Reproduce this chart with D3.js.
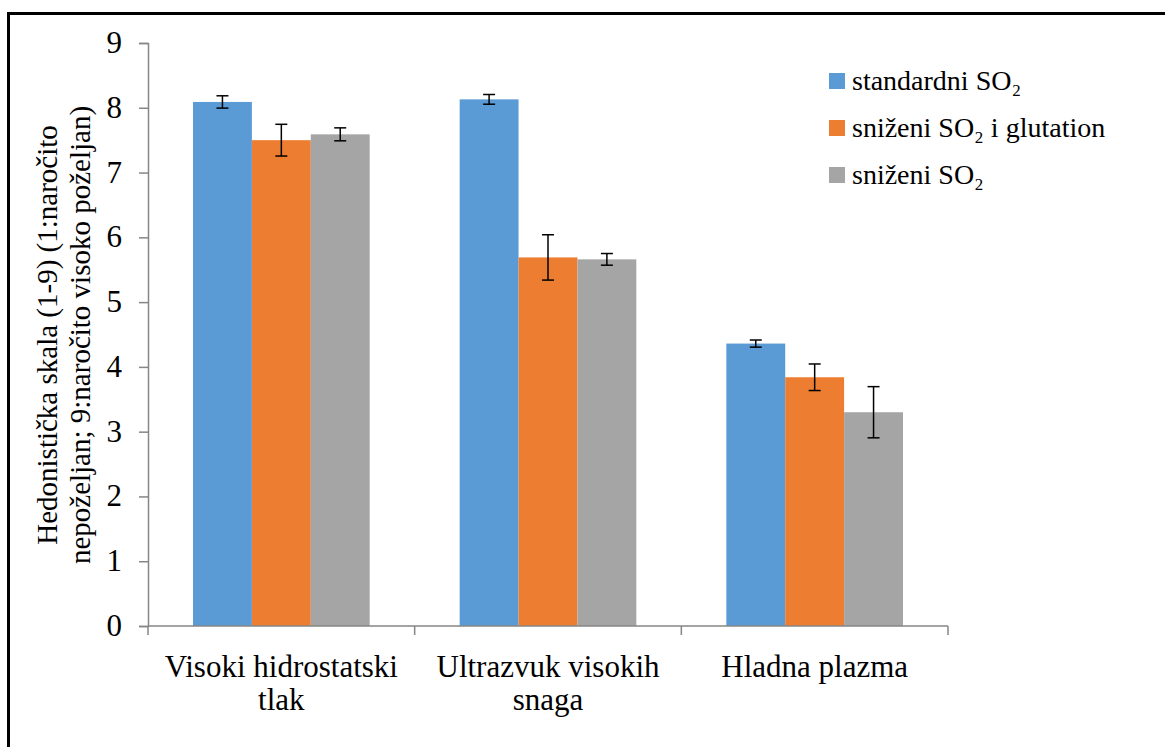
<!DOCTYPE html>
<html>
<head>
<script src="https://d3js.org/d3.v7.min.js"></script>
</head>
<body style="margin:0">
<svg width="1165" height="747"></svg>
<script>
    // data
    const categories = [["Visoki hidrostatski", "tlak"], ["Ultrazvuk visokih", "snaga"], ["Hladna plazma"]];
    const seriesNames = ["standardni SO₂", "sniženi SO₂ i glutation", "sniženi SO₂"];
    const colors = ["#5b9bd5", "#ed7d31", "#a5a5a5"];
    const standardni = [8.09, 8.13, 4.36];
    const snizeniGlut = [7.50, 5.69, 3.84];
    const snizeni = [7.59, 5.66, 3.30];
    const errStandardni = [0.095, 0.075, 0.055];
    const errSnizeniGlut = [0.245, 0.35, 0.205];
    const errSnizeni = [0.10, 0.09, 0.395];
    const yTicks = [0, 1, 2, 3, 4, 5, 6, 7, 8, 9];
    const titleLines = ["Hedonistička skala (1-9) (1:naročito", "nepoželjan; 9:naročito visoko poželjan)"];

    const values = [standardni, snizeniGlut, snizeni];
    const errs = [errStandardni, errSnizeniGlut, errSnizeni];
    const fam = "Liberation Serif";
    const famCss = function () { return "'" + fam + "'"; };

    const svg = d3.select("svg");

    const plotLeft = 148, plotRight = 948, plotTop = 43, plotBottom = 626;

    const x = d3.scaleBand()
        .domain(d3.range(categories.length))
        .range([plotLeft, plotRight]);

    const inner = d3.scaleBand()
        .domain(d3.range(seriesNames.length))
        .range([45, x.bandwidth() - 45]);

    const y = d3.scaleLinear()
        .domain([0, 9])
        .range([plotBottom, plotTop]);

    // text first, the same way the plain font test drew it
    // y tick labels
    svg.selectAll("text.ytick")
        .data(yTicks)
        .enter()
        .append("text")
        .attr("class", "ytick")
        .style("font-family", famCss)
        .style("font-size", "31px")
        .attr("text-anchor", "end")
        .attr("x", plotLeft - 26)
        .attr("y", function (d) { return y(d) + 10; })
        .text(function (d) { return d; });

    // category labels
    const catLines = [];
    categories.forEach(function (lines, i) {
        lines.forEach(function (ln, k) { catLines.push({ i: i, k: k, t: ln }); });
    });
    svg.selectAll("text.cat")
        .data(catLines)
        .enter()
        .append("text")
        .attr("class", "cat")
        .style("font-family", famCss)
        .style("font-size", "31px")
        .attr("text-anchor", "middle")
        .attr("x", function (d) { return x(d.i) + x.bandwidth() / 2; })
        .attr("y", function (d) { return 677 + d.k * 33; })
        .text(function (d) { return d.t; });

    // y axis title
    svg.selectAll("text.ytitle")
        .data(titleLines)
        .enter()
        .append("text")
        .attr("class", "ytitle")
        .style("font-family", famCss)
        .style("font-size", "29px")
        .attr("text-anchor", "middle")
        .attr("transform", function (d, k) { return "translate(" + (57 + k * 33) + ",335) rotate(-90)"; })
        .text(function (d) { return d; });

    // legend
    svg.selectAll("rect.leg")
        .data(seriesNames)
        .enter()
        .append("rect")
        .attr("class", "leg")
        .attr("x", 829)
        .attr("y", function (d, i) { return 73 + i * 47; })
        .attr("width", 16).attr("height", 16)
        .attr("fill", function (d, i) { return colors[i]; });
    svg.selectAll("text.leg")
        .data(seriesNames)
        .enter()
        .append("text")
        .attr("class", "leg")
        .style("font-family", famCss)
        .style("font-size", "28px")
        .attr("x", 852)
        .attr("y", function (d, i) { return 90 + i * 47; })
        .text(function (d) { return d; });

    // outer frame
    svg.append("rect")
        .attr("x", 8.5).attr("y", 13.5)
        .attr("width", 1170).attr("height", 750)
        .attr("fill", "none").attr("stroke", "#000").attr("stroke-width", 3);

    // bars
    values.forEach(function (vals, s) {
        const g = svg.append("g");
        g.selectAll("rect")
            .data(vals)
            .enter()
            .append("rect")
            .attr("x", function (d, i) { return x(i) + inner(s); })
            .attr("y", function (d) { return y(d); })
            .attr("width", inner.bandwidth())
            .attr("height", function (d) { return y(0) - y(d); })
            .attr("fill", colors[s]);

        // error bars
        const eb = g.selectAll("g.err")
            .data(vals)
            .enter()
            .append("g")
            .attr("class", "err")
            .attr("stroke", "#000")
            .attr("stroke-width", 1.5);
        const cx = function (d, i) { return x(i) + inner(s) + inner.bandwidth() / 2; };
        eb.append("line")
            .attr("x1", cx).attr("x2", cx)
            .attr("y1", function (d, i) { return y(d + errs[s][i]); })
            .attr("y2", function (d, i) { return y(d - errs[s][i]); });
        eb.append("line")
            .attr("x1", function (d, i) { return cx(d, i) - 6; })
            .attr("x2", function (d, i) { return cx(d, i) + 6; })
            .attr("y1", function (d, i) { return y(d + errs[s][i]); })
            .attr("y2", function (d, i) { return y(d + errs[s][i]); });
        eb.append("line")
            .attr("x1", function (d, i) { return cx(d, i) - 6; })
            .attr("x2", function (d, i) { return cx(d, i) + 6; })
            .attr("y1", function (d, i) { return y(d - errs[s][i]); })
            .attr("y2", function (d, i) { return y(d - errs[s][i]); });
    });

    // y axis: line and ticks only, labels drawn above
    const yAxis = svg.append("g")
        .attr("transform", "translate(" + plotLeft + ",0)")
        .call(d3.axisLeft(y).tickValues(yTicks).tickSize(9).tickFormat(""));
    yAxis.select(".domain").attr("stroke", "#868686").attr("stroke-width", 1.5);
    yAxis.selectAll(".tick line").attr("stroke", "#868686").attr("stroke-width", 1.5);

    // x axis with ticks at category boundaries
    const xAxisG = svg.append("g");
    xAxisG.append("line")
        .attr("x1", plotLeft).attr("x2", plotRight)
        .attr("y1", plotBottom).attr("y2", plotBottom)
        .attr("stroke", "#868686").attr("stroke-width", 1.5);
    xAxisG.selectAll("line.tick")
        .data(d3.range(categories.length + 1))
        .enter()
        .append("line")
        .attr("class", "tick")
        .attr("x1", function (d) { return d < categories.length ? x(d) : x(d - 1) + x.bandwidth(); })
        .attr("x2", function (d) { return d < categories.length ? x(d) : x(d - 1) + x.bandwidth(); })
        .attr("y1", plotBottom).attr("y2", plotBottom + 9)
        .attr("stroke", "#868686").attr("stroke-width", 1.5);
</script>
</body>
</html>
